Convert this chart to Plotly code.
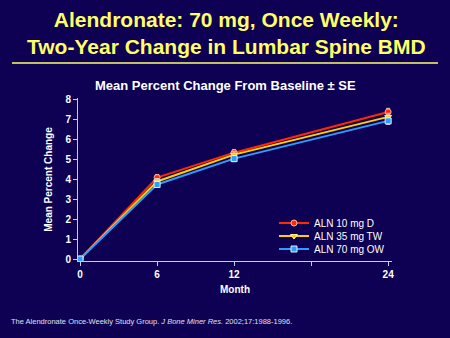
import plotly.graph_objects as go

# Lumbar spine BMD, mean percent change from baseline
months = [0, 6, 12, 24]
aln_10_daily = [0.0, 4.1, 5.35, 7.4]
aln_35_twice = [0.0, 3.9, 5.25, 7.15]
aln_70_once = [0.0, 3.75, 5.05, 6.95]
se_10_daily = [0.0, 0.15, 0.15, 0.18]
se_35_twice = [0.0, 0.15, 0.15, 0.18]
se_70_once = [0.0, 0.15, 0.15, 0.18]

series_names = ["ALN 10 mg D", "ALN 35 mg TW", "ALN 70 mg OW"]
x_tick_vals = [0, 6, 12, 18, 24]
x_tick_text = ["0", "6", "12", "", "24"]
y_tick_vals = [0, 1, 2, 3, 4, 5, 6, 7, 8]

BG = "#0E0052"
AXIS = "#C8C8E8"
FONT = "Liberation Sans, Arial, sans-serif"

# plot area in pixels
L, R, T, B = 78, 58, 98, 77
PW, PH = 450 - L - R, 338 - T - B


def px(xp):
    return (xp - L) / PW


def py(yp):
    return (338 - B - yp) / PH


fig = go.Figure()

styles = [
    (aln_10_daily, se_10_daily, "#FF2A00", "circle", "#FF2A00", "#FFB0A0"),
    (aln_35_twice, se_35_twice, "#FFD000", "triangle-down", "#FFD000", "#FFF0A0"),
    (aln_70_once, se_70_once, "#2E9BFF", "square", "#2E9BFF", "#E0F0FF"),
]
legend_ids = ["legend", "legend2", "legend3"]
legend_rows = [223, 236, 249]

for name, (vals, se, lc, sym, mc, mlc), lid in zip(series_names, styles, legend_ids):
    fig.add_trace(go.Scatter(
        x=months, y=vals, name=name, mode="lines+markers", legend=lid,
        line=dict(color=lc, width=2),
        marker=dict(symbol=sym, size=6, color=mc, line=dict(color=mlc, width=1)),
        error_y=dict(type="data", array=se, color="#D0D0D0", thickness=1, width=2),
    ))

legend_common = dict(
    x=px(274), xanchor="left", yanchor="middle",
    bgcolor="rgba(0,0,0,0)", font=dict(size=10, color="white", family=FONT),
    itemwidth=30,
)

fig.update_layout(
    width=450, height=338,
    paper_bgcolor=BG, plot_bgcolor=BG,
    margin=dict(l=L, r=R, t=T, b=B),
    font=dict(family=FONT, color="white"),
    showlegend=True,
    legend=dict(y=py(legend_rows[0]), **legend_common),
    legend2=dict(y=py(legend_rows[1]), **legend_common),
    legend3=dict(y=py(legend_rows[2]), **legend_common),
    xaxis=dict(
        range=[-0.16, 24.3], tickvals=x_tick_vals, ticktext=x_tick_text,
        showgrid=False, zeroline=False, showline=True, linecolor=AXIS, linewidth=1,
        ticks="outside", ticklen=4, tickcolor=AXIS,
        tickfont=dict(size=10, color="white", weight="bold"),
        title=dict(text="<b>Month</b>", font=dict(size=10, color="white"), standoff=6),
    ),
    yaxis=dict(
        range=[-0.1, 8.1], tickvals=y_tick_vals,
        showgrid=False, zeroline=False, showline=True, linecolor=AXIS, linewidth=1,
        ticks="outside", ticklen=4, tickcolor=AXIS,
        tickfont=dict(size=10, color="white", weight="bold"),
        title=dict(text="<b>Mean Percent Change</b>", font=dict(size=10, color="white"), standoff=10),
    ),
)

# Title block, rule, subtitle and source note
fig.add_annotation(
    text="<b>Alendronate: 70 mg, Once Weekly:<br>Two-Year Change in Lumbar Spine BMD</b>",
    xref="paper", yref="paper", x=px(226), y=py(6), xanchor="center", yanchor="top",
    showarrow=False, align="center",
    font=dict(size=21, color="#FFFF66", family=FONT),
)
fig.add_shape(type="line", xref="paper", yref="paper",
              x0=px(12), x1=px(438), y0=py(63), y1=py(63),
              line=dict(color="#FFFF66", width=1.5))
fig.add_annotation(
    text="<b>Mean Percent Change From Baseline ± SE</b>",
    xref="paper", yref="paper", x=px(225), y=py(85),
    xanchor="center", yanchor="middle", showarrow=False,
    font=dict(size=13, color="white"),
)
fig.add_annotation(
    text="The Alendronate Once-Weekly Study Group. <i>J Bone Miner Res.</i> 2002;17:1988-1996.",
    xref="paper", yref="paper", x=px(9), y=py(321),
    xanchor="left", yanchor="middle", showarrow=False,
    font=dict(size=7.5, color="#E0E0EC"),
)

fig.write_html("out.html")
